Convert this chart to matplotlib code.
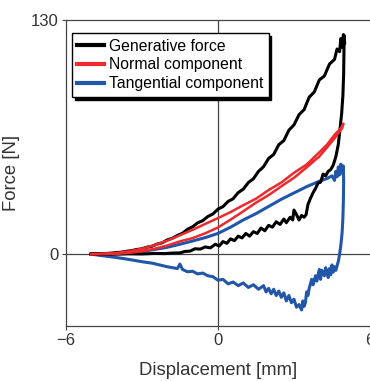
import matplotlib.pyplot as plt
from matplotlib import font_manager

# ---------------- data ----------------
# Generative force (black): loading branch then unloading branch
gen_x = [-5.0, -4.8, -4.6, -4.4, -4.2, -4.0, -3.8, -3.6, -3.4, -3.2, -3.0, -2.8, -2.6, -2.4,
         -2.2, -2.0, -1.8, -1.6, -1.4, -1.2, -1.0, -0.8, -0.6, -0.4, -0.2, 0.0, 0.2, 0.4,
         0.6, 0.8, 1.0, 1.2, 1.4, 1.6, 1.8, 2.0, 2.2, 2.4, 2.6, 2.8, 3.0, 3.2, 3.4, 3.6,
         3.8, 4.0, 4.2, 4.4, 4.6, 4.7, 4.8, 4.85, 4.9, 4.95, 5.0,
         4.98, 4.97, 4.96, 4.93, 4.88, 4.82, 4.75, 4.65, 4.55, 4.45, 4.35, 4.25, 4.15, 4.05,
         3.95, 3.85, 3.75, 3.65, 3.55, 3.48, 3.4, 3.3, 3.2, 3.1, 3.0, 2.95, 2.85, 2.7, 2.6,
         2.45, 2.3, 2.15, 2.0, 1.85, 1.7, 1.55, 1.4, 1.25, 1.1, 0.95, 0.8, 0.65, 0.5, 0.35,
         0.2, 0.05, -0.1, -0.3, -0.5, -0.7, -0.9, -1.1, -1.3, -1.5, -1.8, -2.1, -2.5, -3.0,
         -3.5, -4.0, -5.0]
gen_y = [0.0, 0.1, 0.3, 0.4, 0.6, 0.9, 1.1, 1.6, 2.0, 2.6, 3.0, 3.9, 4.4, 5.6,
         6.3, 7.9, 8.8, 10.4, 11.6, 13.8, 15.2, 17.4, 18.6, 20.9, 22.3, 25.0, 26.4, 29.3,
         30.8, 34.2, 36.1, 39.8, 41.9, 46.0, 48.6, 53.2, 55.4, 60.8, 63.1, 68.9, 71.8, 77.5,
         80.3, 87.2, 90.1, 96.8, 99.0, 105.6, 108.2, 114.0, 112.5, 119.8, 115.0, 122.0, 117.0,
         121.5, 110.0, 100.0, 88.0, 78.0, 70.0, 61.0, 54.0, 49.5, 47.0, 46.0, 43.5, 44.5, 40.0,
         39.5, 36.5, 34.0, 31.0, 27.5, 22.0, 20.5, 21.5, 19.0, 22.0, 24.5, 19.0, 20.5, 17.5, 19.5,
         16.5, 18.0, 15.0, 16.0, 13.0, 14.5, 11.5, 12.5, 10.0, 11.5, 9.0, 10.0, 7.5, 8.5, 6.0,
         7.0, 4.5, 5.5, 3.5, 4.0, 2.8, 3.0, 1.7, 1.5, 0.7, 0.6, 0.3, 0.4, 0.1,
         0.2, 0.0, 0.0]

# Normal component (red): closed loop
nor_x = [-5.0, -4.5, -4.0, -3.5, -3.0, -2.5, -2.0, -1.5, -1.0, -0.5, 0.0, 0.5, 1.0, 1.5,
         2.0, 2.5, 3.0, 3.5, 4.0, 4.3, 4.6, 4.8, 4.9, 4.95,
         4.9, 4.8, 4.6, 4.3, 4.0, 3.5, 3.0, 2.5, 2.0, 1.5, 1.0, 0.5, 0.0, -0.5, -1.0, -1.5,
         -2.0, -2.5, -3.0, -3.5, -4.0, -5.0]
nor_y = [0.0, 0.2, 0.7, 1.6, 3.0, 5.0, 7.5, 10.5, 13.5, 16.8, 20.0, 23.4, 27.2, 30.8,
         35.6, 39.8, 45.2, 49.8, 56.6, 60.8, 66.3, 69.2, 71.0, 72.5,
         70.0, 68.2, 64.3, 59.2, 54.3, 48.2, 42.4, 37.7, 32.8, 28.6, 23.8, 19.2, 14.8, 11.6, 8.9,
         7.1, 4.8, 3.0, 1.6, 0.7, 0.2, 0.0]

# Tangential component (blue): loading above zero, unloading below zero
tan_x = [-5.0, -4.5, -4.0, -3.5, -3.0, -2.5, -2.0, -1.5, -1.0, -0.5, 0.0, 0.5, 1.0, 1.5,
         2.0, 2.5, 3.0, 3.5, 4.0, 4.3, 4.5, 4.6, 4.65, 4.7, 4.75, 4.8, 4.85, 4.9, 4.95,
         4.96, 4.95, 4.93, 4.9, 4.85, 4.8, 4.75, 4.7, 4.65, 4.6, 4.55, 4.5, 4.45, 4.4, 4.35,
         4.3, 4.25, 4.2, 4.1, 4.05, 4.0, 3.9, 3.85, 3.75, 3.7, 3.6, 3.55, 3.5, 3.45, 3.4,
         3.35, 3.3, 3.2, 3.1, 3.0, 2.9, 2.8, 2.7, 2.6, 2.5, 2.4, 2.3, 2.2, 2.1, 2.0, 1.9,
         1.8, 1.6, 1.4, 1.2, 1.0, 0.8, 0.6, 0.4, 0.2, 0.0, -0.2, -0.4, -0.6, -0.8, -1.0,
         -1.2, -1.4, -1.5, -1.6, -1.8, -2.0, -2.3, -2.6, -3.0, -3.4, -3.8, -4.2, -4.6, -5.0]
tan_y = [0.0, 0.1, 0.3, 0.8, 1.5, 2.6, 3.8, 5.5, 7.3, 9.2, 11.5, 15.0, 19.0, 22.5,
         26.5, 30.5, 34.0, 37.5, 40.5, 42.0, 43.5, 41.0, 46.0, 43.0, 48.5, 44.0, 50.0, 45.0, 49.0,
         40.0, 30.0, 20.0, 12.0, 5.0, 0.0, -4.0, -6.5, -9.0, -7.0, -10.0, -6.0, -11.5, -8.0, -13.0,
         -10.0, -7.5, -12.0, -9.0, -14.0, -8.5, -15.0, -12.0, -17.0, -14.0, -19.0, -23.0, -21.0, -27.0, -29.0,
         -26.0, -31.0, -28.0, -29.5, -25.0, -27.0, -23.0, -26.0, -21.5, -24.0, -20.5, -23.0, -19.5, -22.0, -19.0, -21.0,
         -17.5, -19.5, -17.0, -18.5, -16.0, -17.5, -15.5, -16.5, -14.0, -14.5, -12.5, -12.0, -10.5, -11.0, -9.5,
         -9.8, -8.5, -5.5, -8.0, -7.5, -7.0, -6.0, -5.0, -4.2, -3.2, -2.3, -1.5, -0.8, 0.0]

labels = ['Generative force', 'Normal component', 'Tangential component']
colors = ['#000000', '#ee2a2e', '#2156a8']

# ---------------- plot ----------------
plt.rcParams['font.family'] = ['Liberation Sans', 'DejaVu Sans']

# condensed face for the legend if there is one, else plain Liberation Sans
names = {f.name for f in font_manager.fontManager.ttflist}
if 'Liberation Sans Narrow' in names:
    leg_prop = {'family': 'Liberation Sans Narrow', 'size': 13}
else:
    leg_prop = {'family': 'Liberation Sans', 'size': 11.3}

fig = plt.figure(figsize=(3.7, 3.81), dpi=100)
ax = fig.add_axes([0.178, 0.144, 0.822, 0.803])

ax.axhline(0, color='#444444', lw=0.9, zorder=1)
ax.axvline(0, color='#444444', lw=0.9, zorder=1)

ax.plot(gen_x, gen_y, color=colors[0], lw=2.2, label=labels[0], zorder=3)
ax.plot(nor_x, nor_y, color=colors[1], lw=1.8, label=labels[1], zorder=4)
ax.plot(tan_x, tan_y, color=colors[2], lw=2.2, label=labels[2], zorder=2)

ax.set_xlim(-6, 6)
ax.set_ylim(-40, 130)
ax.set_xticks([-6, 0, 6])
ax.set_yticks([0, 130])
ax.tick_params(length=3, width=0.8, color='#444444', labelsize=12, labelcolor='#333333', pad=2)
for s in ['left', 'top', 'bottom']:
    ax.spines[s].set_color('#444444')
    ax.spines[s].set_linewidth(0.9)
ax.spines['right'].set_visible(False)

ax.set_xlabel('Displacement [mm]', fontsize=13.3, color='#333333', labelpad=10)
ax.set_ylabel('Force [N]', fontsize=13.3, color='#333333', labelpad=8)

leg = ax.legend(loc='upper left', bbox_to_anchor=(0.02, 0.958), borderaxespad=0,
                prop=leg_prop, handlelength=1.7, handletextpad=0.3, labelspacing=0.25,
                borderpad=0.35, fancybox=False, framealpha=1,
                shadow={'color': 'black', 'alpha': 1.0})
leg.get_frame().set_edgecolor('black')
leg.get_frame().set_linewidth(1.0)
for h in leg.get_lines():
    h.set_linewidth(3)

fig.savefig('out.png', dpi=100)
